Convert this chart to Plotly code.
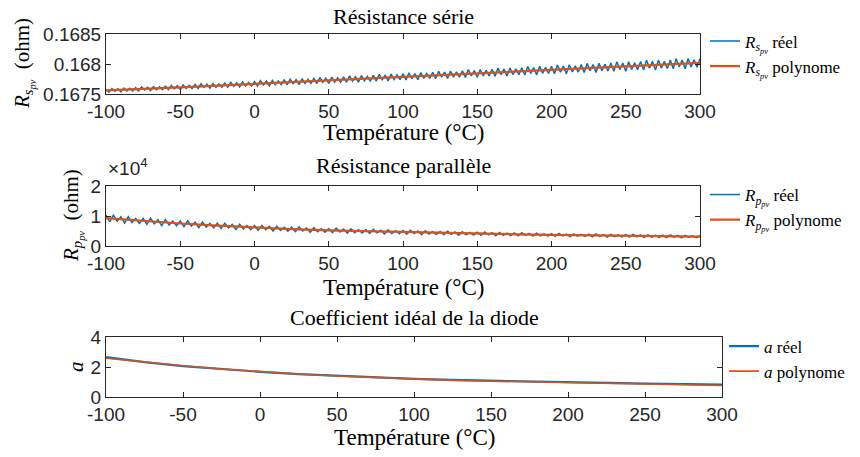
import plotly.graph_objects as go

# ---------------- DATA ----------------
T_poly = [-100, -75, -50, -25, 0, 25, 50, 75, 100, 125, 150, 175, 200, 225, 250, 275, 300]

# Résistance série (ohm), mesures tous les 2 °C
T_rs = list(range(-100, 301, 2))
Rs_reel = [
    0.167580, 0.167531, 0.167591, 0.167544, 0.167587, 0.167536, 0.167599, 0.167550, 0.167594, 0.167551,
    0.167606, 0.167552, 0.167617, 0.167566, 0.167612, 0.167556, 0.167624, 0.167571, 0.167619, 0.167572,
    0.167631, 0.167572, 0.167644, 0.167587, 0.167638, 0.167577, 0.167650, 0.167592, 0.167644, 0.167592,
    0.167657, 0.167593, 0.167670, 0.167609, 0.167663, 0.167597, 0.167676, 0.167613, 0.167669, 0.167613,
    0.167682, 0.167613, 0.167696, 0.167630, 0.167688, 0.167617, 0.167702, 0.167634, 0.167694, 0.167634,
    0.167708, 0.167634, 0.167722, 0.167651, 0.167714, 0.167637, 0.167728, 0.167655, 0.167719, 0.167655,
    0.167734, 0.167654, 0.167748, 0.167673, 0.167739, 0.167657, 0.167754, 0.167676, 0.167744, 0.167676,
    0.167759, 0.167675, 0.167775, 0.167694, 0.167764, 0.167678, 0.167780, 0.167697, 0.167769, 0.167696,
    0.167785, 0.167695, 0.167801, 0.167716, 0.167790, 0.167698, 0.167806, 0.167719, 0.167794, 0.167717,
    0.167810, 0.167716, 0.167827, 0.167737, 0.167815, 0.167718, 0.167832, 0.167740, 0.167819, 0.167738,
    0.167836, 0.167736, 0.167853, 0.167758, 0.167840, 0.167738, 0.167858, 0.167761, 0.167844, 0.167759,
    0.167862, 0.167757, 0.167879, 0.167780, 0.167865, 0.167758, 0.167883, 0.167782, 0.167869, 0.167780,
    0.167887, 0.167777, 0.167906, 0.167801, 0.167891, 0.167779, 0.167909, 0.167803, 0.167894, 0.167800,
    0.167913, 0.167798, 0.167932, 0.167823, 0.167916, 0.167799, 0.167935, 0.167824, 0.167919, 0.167821,
    0.167938, 0.167818, 0.167958, 0.167844, 0.167941, 0.167819, 0.167961, 0.167845, 0.167944, 0.167842,
    0.167964, 0.167839, 0.167984, 0.167865, 0.167967, 0.167839, 0.167987, 0.167866, 0.167969, 0.167863,
    0.167990, 0.167859, 0.168010, 0.167887, 0.167992, 0.167859, 0.168013, 0.167887, 0.167994, 0.167884,
    0.168015, 0.167880, 0.168037, 0.167908, 0.168017, 0.167880, 0.168039, 0.167908, 0.168019, 0.167904,
    0.168041, 0.167900, 0.168063, 0.167930, 0.168043, 0.167900, 0.168065, 0.167930, 0.168044, 0.167925,
    0.168066, 0.167921, 0.168089, 0.167951, 0.168068, 0.167920, 0.168091, 0.167951, 0.168069, 0.167946,
    0.168092,
]
Rs_poly = [0.16756, 0.16758, 0.16761, 0.16764, 0.16767, 0.16769, 0.16772, 0.16775, 0.16779,
           0.16782, 0.16785, 0.16788, 0.16791, 0.16794, 0.16797, 0.16800, 0.16802]

# Résistance parallèle (ohm), mesures tous les 2,5 °C
T_rp = [-100 + 2.5 * k for k in range(161)]
Rp_reel = [
    10260, 8127, 10285, 8294, 9719, 7638, 9740, 7797, 9184, 7494,
    9200, 7215, 9250, 7399, 8747, 6813, 8792, 6990, 8299, 6734,
    8340, 6492, 8395, 6674, 7934, 6138, 7984, 6312, 7534, 6084,
    7580, 5860, 7620, 6019, 7181, 5513, 7217, 5665, 6789, 5444,
    6820, 5244, 6890, 5419, 6516, 4975, 6583, 5145, 6216, 4966,
    6280, 4800, 6360, 4979, 6021, 4575, 6098, 4750, 5766, 4596,
    5840, 4455, 5930, 4639, 5626, 4275, 5713, 4455, 5416, 4326,
    5500, 4200, 5580, 4369, 5291, 4025, 5368, 4190, 5086, 4066,
    5160, 3950, 5240, 4114, 4976, 3800, 5053, 3960, 4796, 3851,
    4870, 3745, 4940, 3894, 4691, 3600, 4758, 3745, 4516, 3641,
    4580, 3545, 4650, 3689, 4426, 3425, 4493, 3565, 4276, 3476,
    4340, 3390, 4400, 3519, 4191, 3275, 4248, 3400, 4046, 3316,
    4100, 3236, 4167, 3357, 3986, 3131, 4053, 3251, 3874, 3174,
    3940, 3098, 4005, 3215, 3827, 2994, 3892, 3110, 3716, 3034,
    3780, 2958, 3842, 3072, 3669, 2856, 3730, 2969, 3559, 2894,
    3620, 2820, 3680, 2930, 3510, 2719, 3570, 2827, 3401, 2754,
    3460,
]
Rp_poly = [9300, 8300, 7500, 6800, 6100, 5600, 5200, 4900, 4600,
           4350, 4100, 3900, 3700, 3550, 3400, 3250, 3100]

# Coefficient idéal de la diode
a_reel = [2.66, 2.33, 2.06, 1.86, 1.68, 1.53, 1.41, 1.30, 1.21, 1.14, 1.08, 1.03, 0.98, 0.94, 0.90, 0.86, 0.82]
a_poly = [2.58, 2.32, 2.08, 1.87, 1.69, 1.53, 1.40, 1.29, 1.19, 1.11, 1.05, 1.00, 0.96, 0.92, 0.88, 0.83, 0.77]

x_ticks = [-100, -50, 0, 50, 100, 150, 200, 250, 300]
x_ticktext = ["-100", "-50", "0", "50", "100", "150", "200", "250", "300"]

# ---------------- STYLE ----------------
OFF = 8                      # page body margin of the browser
W, H = 860 - OFF, 457 - OFF  # figure fits the window
BLUE = "#0072BD"
ORANGE = "#D95319"
AX = "#262626"
SERIF = "Liberation Serif, DejaVu Serif, serif"
SANS = "Liberation Sans, Arial, sans-serif"

def px_x(p):
    return (p - OFF) / W

def px_y(p):
    return 1 - (p - OFF) / H

fig = go.Figure()

rs_lab = "<i>R</i><sub><i>s</i><sub><i>pv</i></sub></sub>"
rp_lab = "<i>R</i><sub><i>p</i><sub><i>pv</i></sub></sub>"

fig.add_trace(go.Scatter(x=T_rs, y=Rs_reel, mode="lines", line=dict(color=BLUE, width=1.5),
                         name=rs_lab + " réel", xaxis="x", yaxis="y", legend="legend"))
fig.add_trace(go.Scatter(x=T_poly, y=Rs_poly, mode="lines", line=dict(color=ORANGE, width=2.2),
                         name=rs_lab + " polynome", xaxis="x", yaxis="y", legend="legend"))
fig.add_trace(go.Scatter(x=T_rp, y=Rp_reel, mode="lines", line=dict(color=BLUE, width=1.5),
                         name=rp_lab + " réel", xaxis="x2", yaxis="y2", legend="legend2"))
fig.add_trace(go.Scatter(x=T_poly, y=Rp_poly, mode="lines", line=dict(color=ORANGE, width=2.2),
                         name=rp_lab + " polynome", xaxis="x2", yaxis="y2", legend="legend2"))
fig.add_trace(go.Scatter(x=T_poly, y=a_reel, mode="lines", line=dict(color=BLUE, width=2.2),
                         name="<i>a</i> réel", xaxis="x3", yaxis="y3", legend="legend3"))
fig.add_trace(go.Scatter(x=T_poly, y=a_poly, mode="lines", line=dict(color=ORANGE, width=1.6),
                         name="<i>a</i> polynome", xaxis="x3", yaxis="y3", legend="legend3"))

common_x = dict(range=[-100, 300], tickvals=x_ticks, ticktext=x_ticktext, ticks="inside", ticklen=5,
                tickcolor=AX, showline=True, linecolor=AX, linewidth=1, mirror="ticks", showgrid=False,
                zeroline=False, tickfont=dict(family=SANS, size=19, color=AX))
common_y = dict(ticks="inside", ticklen=5, tickcolor=AX, showline=True, linecolor=AX, linewidth=1,
                mirror="ticks", showgrid=False, zeroline=False,
                tickfont=dict(family=SANS, size=19, color=AX))

layout = dict(
    width=W, height=H, margin=dict(l=0, r=0, t=0, b=0, autoexpand=False),
    paper_bgcolor="white", plot_bgcolor="white",
    xaxis=dict(domain=[px_x(106), px_x(700)], anchor="y", **common_x),
    yaxis=dict(domain=[px_y(94), px_y(34)], anchor="x", range=[0.1675, 0.1685],
               tickvals=[0.1675, 0.168, 0.1685], ticktext=["0.1675", "0.168", "0.1685"], **common_y),
    xaxis2=dict(domain=[px_x(106), px_x(700)], anchor="y2", **common_x),
    yaxis2=dict(domain=[px_y(246), px_y(186)], anchor="x2", range=[0, 20000],
                tickvals=[0, 10000, 20000], ticktext=["0", "1", "2"], **common_y),
    xaxis3=dict(domain=[px_x(106), px_x(722)], anchor="y3", **common_x),
    yaxis3=dict(domain=[px_y(397), px_y(337)], anchor="x3", range=[0, 4],
                tickvals=[0, 2, 4], ticktext=["0", "2", "4"], **common_y),
    showlegend=True,
)
leg_common = dict(bgcolor="rgba(0,0,0,0)", borderwidth=0, font=dict(family=SERIF, size=17, color="black"),
                  xanchor="left", yanchor="top", tracegroupgap=0, itemwidth=30)
layout["legend"] = dict(x=px_x(705), y=px_y(23.5), **leg_common)
layout["legend2"] = dict(x=px_x(705), y=px_y(177), **leg_common)
layout["legend3"] = dict(x=px_x(724), y=px_y(328.5), **leg_common)
fig.update_layout(**layout)

ann = []
def text(x, y, s, size=23, family=SERIF, angle=0, xanchor="center", yanchor="middle", color="black"):
    ann.append(dict(x=px_x(x), y=px_y(y), xref="paper", yref="paper", text=s, showarrow=False,
                    font=dict(family=family, size=size, color=color), textangle=angle,
                    xanchor=xanchor, yanchor=yanchor))

text(403, 16, "Résistance série", size=22)
text(403, 165, "Résistance parallèle", size=22)
text(414, 317, "Coefficient idéal de la diode", size=22)
text(403, 133, "Température (°C)")
text(403, 287, "Température (°C)")
text(414, 437, "Température (°C)")
text(24, 64, rs_lab + "  (ohm)", size=21, angle=-90)
text(73, 216, rp_lab + "  (ohm)", size=21, angle=-90)
text(76, 367, "<i>a</i>", size=21, angle=-90)
text(106, 181, "×10<sup>4</sup>", size=19, family=SANS, xanchor="left", yanchor="bottom", color=AX)
fig.update_layout(annotations=ann)

fig.write_html("out.html")
